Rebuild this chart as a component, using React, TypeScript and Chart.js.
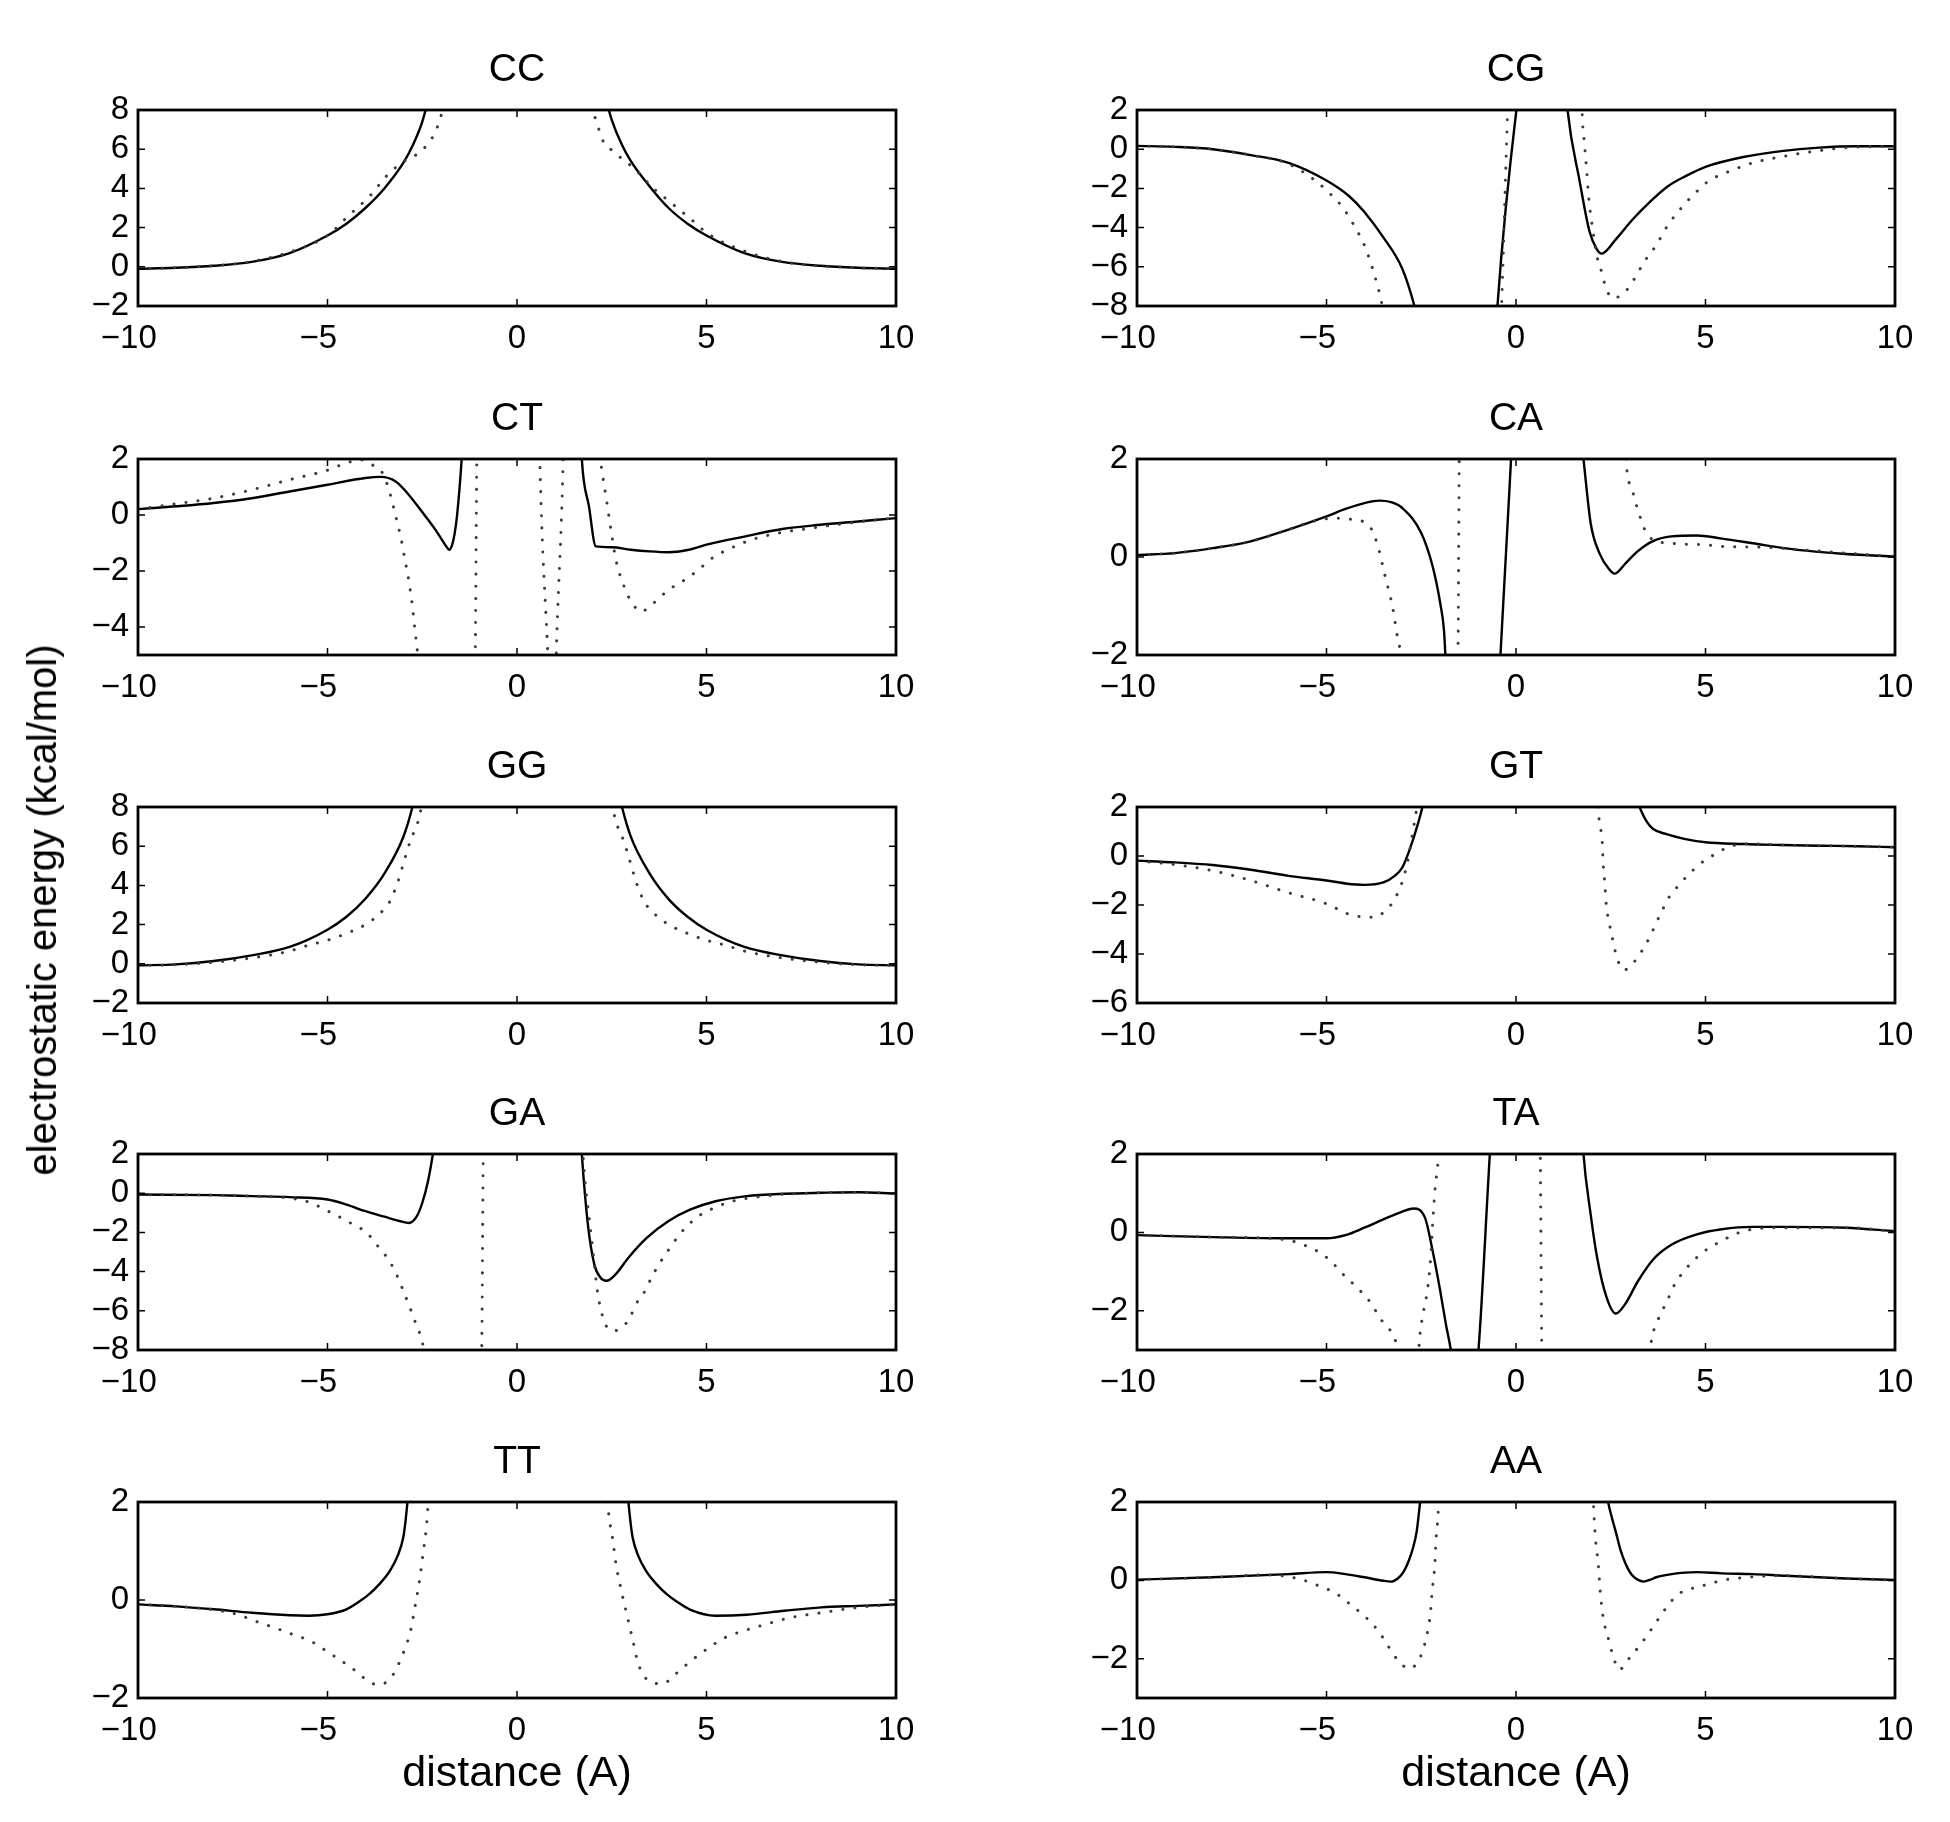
import React, { useEffect, useRef } from 'react';
import { Chart, registerables } from 'chart.js';
Chart.register(...registerables);

type Pt = [number, number] | null;

// ---------- data (x in Å, y in kcal/mol); null = break in the curve ----------
const X_TICKS = [-10, -5, 0, 5, 10];

const CC_SOLID: Pt[] = [[-10,-0.1],[-9,-0.05],[-8,0.05],[-7,0.25],[-6,0.7],[-5,1.6],[-4.5,2.2],[-4,3.0],[-3.5,4.0],[-3,5.3],[-2.75,6.2],[-2.5,7.4],[-2.25,9.2],[-2,11],null,
  [2,11],[2.25,9.2],[2.5,7.5],[2.75,6.3],[3,5.4],[3.5,4.1],[4,3.0],[4.5,2.2],[5,1.6],[6,0.7],[7,0.25],[8,0.05],[9,-0.05],[10,-0.1]];
const CC_DOTTED: Pt[] = [[-10,-0.1],[-9,-0.05],[-8,0.05],[-7,0.27],[-6,0.75],[-5,1.6],[-4.45,2.6],[-3.84,3.7],[-3.46,4.6],[-3.05,5.3],[-2.6,5.8],[-2.34,6.3],[-2.15,6.9],[-2.02,7.6],[-1.9,8.5],[-1.75,10],null,
  [1.75,10],[1.9,8.6],[2.12,7.27],[2.25,6.5],[2.53,5.9],[2.78,5.5],[3.1,5.0],[3.6,4.0],[4,3.37],[4.58,2.44],[5.07,1.65],[6,0.8],[7,0.27],[8,0.05],[9,-0.05],[10,-0.1]];

const CG_SOLID: Pt[] = [[-10,0.17],[-9,0.12],[-8,0.0],[-7,-0.3],[-6,-0.7],[-5,-1.6],[-4.4,-2.4],[-4,-3.2],[-3.5,-4.5],[-3,-6.1],[-2.68,-8],[-2.5,-9.5],null,
  [-0.55,-10],[-0.49,-8],[0.01,2],[0.05,2.5],null,
  [1.32,3],[1.36,2],[1.68,-1.64],[1.94,-4.2],[2.13,-5.1],[2.26,-5.33],[2.65,-4.56],[3.07,-3.6],[3.5,-2.75],[4,-1.9],[4.5,-1.35],[5,-0.9],[6,-0.4],[7,-0.1],[8,0.08],[9,0.15],[10,0.15]];
const CG_DOTTED: Pt[] = [[-10,0.17],[-9,0.12],[-8,0.0],[-7,-0.3],[-6,-0.75],[-5.3,-1.6],[-5,-2.1],[-4.6,-2.9],[-4.3,-3.8],[-4,-4.9],[-3.8,-6.0],[-3.65,-7.0],[-3.55,-7.8],[-3.45,-8.8],null,
  [-0.4,-9],[-0.38,-8],[-0.22,2],[-0.2,3],null,
  [1.72,3],[1.76,1.25],[1.8,0.4],[1.86,-0.97],[1.92,-2.5],[2.02,-4.05],[2.15,-5.6],[2.26,-6.27],[2.36,-7.0],[2.55,-7.6],[2.73,-7.5],[3.0,-7.0],[3.2,-6.35],[3.4,-5.7],[3.7,-4.9],[4.0,-3.9],[4.45,-2.8],[4.8,-2.1],[5.1,-1.6],[5.6,-1.15],[6.25,-0.7],[7.1,-0.35],[7.9,-0.1],[8.7,0.08],[10,0.15]];

const CT_SOLID: Pt[] = [[-10,0.21],[-9,0.31],[-8,0.43],[-7,0.6],[-6,0.84],[-5,1.08],[-4,1.32],[-3.6,1.36],[-3.2,1.2],[-2.97,0.9],[-2.48,0.07],[-2.15,-0.53],[-1.95,-0.95],[-1.85,-1.15],[-1.79,-1.24],[-1.72,-1.1],[-1.65,-0.7],[-1.58,0.0],[-1.46,2.0],[-1.42,3],null,
  [1.68,3],[1.71,2],[1.9,0.3],[2.08,-1.12],[2.5,-1.15],[3,-1.24],[3.5,-1.3],[4,-1.33],[4.5,-1.25],[5,-1.06],[6,-0.77],[7,-0.5],[8,-0.35],[9,-0.23],[10,-0.11]];
const CT_DOTTED: Pt[] = [[-10,0.21],[-9,0.4],[-8,0.6],[-7,0.9],[-6,1.26],[-5,1.6],[-4.5,1.86],[-4.1,1.97],[-3.83,1.8],[-3.55,1.5],[-3.38,0.9],[-3.2,-0.05],[-3.05,-0.9],[-2.97,-1.5],[-2.86,-2.3],[-2.77,-3.15],[-2.7,-4.0],[-2.62,-5],[-2.55,-6],null,
  [-1.12,-6],[-1.1,-5],[-1.06,2],[-1.04,3],null,
  [0.59,3],[0.61,1.56],[0.8,-4.6],[0.85,-6],[0.95,-7],[1.02,-6],[1.05,-4.4],[1.21,1.56],[1.23,3],null,
  [2.15,3],[2.2,2.0],[2.25,1.5],[2.36,0.55],[2.48,-0.53],[2.61,-1.6],[2.86,-2.67],[3.02,-3.1],[3.27,-3.45],[3.6,-3.15],[4.0,-2.67],[4.33,-2.4],[4.75,-2.0],[5.15,-1.54],[5.65,-1.18],[6.2,-0.88],[7.0,-0.62],[7.7,-0.48],[8.5,-0.33],[9.3,-0.2],[10,-0.11]];

const CA_SOLID: Pt[] = [[-10,0.04],[-9,0.08],[-8,0.18],[-7,0.32],[-6,0.56],[-5,0.83],[-4.5,0.98],[-4,1.1],[-3.6,1.15],[-3.3,1.12],[-3,1.0],[-2.5,0.49],[-2.2,-0.19],[-2,-0.94],[-1.9,-1.5],[-1.85,-2.2],null,
  [-0.45,-2.5],[-0.41,-2],[-0.13,2],[-0.1,2.5],null,
  [1.72,2.4],[1.78,2],[1.97,0.69],[2.2,0.08],[2.47,-0.26],[2.6,-0.34],[2.89,-0.13],[3.2,0.11],[3.6,0.32],[4.1,0.42],[4.77,0.44],[5.4,0.38],[6.25,0.28],[7.07,0.18],[7.9,0.11],[8.7,0.06],[10,0.01]];
const CA_DOTTED: Pt[] = [[-10,0.04],[-9,0.08],[-8,0.18],[-7,0.32],[-6,0.56],[-5.35,0.73],[-4.77,0.79],[-4.36,0.77],[-4.03,0.72],[-3.8,0.55],[-3.64,0.21],[-3.45,-0.4],[-3.26,-1.01],[-3.13,-1.62],[-3.05,-1.93],[-3.0,-2.3],null,
  [-1.55,-2.5],[-1.53,-2],[-1.5,1.7],[-1.49,2.5],null,
  [2.88,2.5],[2.93,1.75],[3.04,1.44],[3.16,1.1],[3.3,0.76],[3.42,0.52],[3.62,0.35],[4.1,0.28],[4.93,0.25],[5.6,0.21],[6.5,0.2],[7.5,0.15],[8.7,0.08],[10,0.01]];

const GG_SOLID: Pt[] = [[-10,-0.08],[-9,-0.03],[-8,0.14],[-7,0.43],[-6,0.86],[-5,1.74],[-4.5,2.4],[-4,3.32],[-3.5,4.6],[-3,6.47],[-2.76,8],[-2.6,9.5],null,
  [2.6,9.5],[2.77,8],[3,6.5],[3.5,4.6],[4,3.3],[4.5,2.4],[5,1.74],[6,0.86],[7,0.43],[8,0.14],[9,-0.03],[10,-0.08]];
const GG_DOTTED: Pt[] = [[-10,-0.08],[-9,-0.05],[-8,0.08],[-7,0.3],[-6,0.65],[-5.5,0.95],[-5,1.2],[-4.5,1.55],[-4,2.0],[-3.6,2.6],[-3.35,3.2],[-3.14,4.2],[-2.97,5.3],[-2.81,6.3],[-2.62,7.2],[-2.5,8.2],[-2.35,10],null,
  [2.35,10],[2.5,8.2],[2.62,7.2],[2.81,6.3],[2.97,5.3],[3.14,4.2],[3.35,3.2],[3.6,2.6],[4,2.0],[4.5,1.55],[5,1.2],[5.5,0.95],[6,0.65],[7,0.3],[8,0.08],[9,-0.05],[10,-0.08]];

const GT_SOLID: Pt[] = [[-10,-0.19],[-9,-0.26],[-8,-0.37],[-7,-0.56],[-6,-0.81],[-5,-1.0],[-4.5,-1.12],[-4,-1.18],[-3.5,-1.08],[-3.2,-0.81],[-3,-0.47],[-2.8,0.29],[-2.6,1.25],[-2.47,2],[-2.4,2.6],null,
  [3.12,2.6],[3.26,2],[3.45,1.4],[3.62,1.1],[3.95,0.9],[4.44,0.7],[5,0.56],[6,0.49],[7,0.45],[8,0.42],[9,0.4],[10,0.36]];
const GT_DOTTED: Pt[] = [[-10,-0.2],[-9,-0.35],[-8,-0.6],[-7,-1.0],[-6,-1.5],[-5,-1.95],[-4.4,-2.38],[-3.8,-2.5],[-3.45,-2.25],[-3.2,-1.75],[-3,-1.05],[-2.85,-0.15],[-2.72,1.0],[-2.6,2.2],[-2.55,3],null,
  [2.15,3],[2.19,1.52],[2.27,0.7],[2.3,-0.33],[2.34,-1.08],[2.38,-1.97],[2.47,-2.8],[2.55,-3.4],[2.63,-3.96],[2.75,-4.5],[2.85,-4.65],[3.13,-4.3],[3.37,-3.75],[3.54,-3.27],[3.7,-2.73],[3.87,-2.18],[4.03,-1.7],[4.28,-1.22],[4.52,-0.81],[4.85,-0.33],[5.18,0.01],[5.6,0.36],[6.08,0.5],[7,0.45],[8,0.42],[9,0.4],[10,0.36]];

const GA_SOLID: Pt[] = [[-10,-0.07],[-8,-0.1],[-7,-0.15],[-6,-0.2],[-5,-0.32],[-4.5,-0.58],[-4,-0.92],[-3.5,-1.2],[-3.1,-1.42],[-2.85,-1.52],[-2.65,-1.2],[-2.5,-0.5],[-2.35,0.6],[-2.22,2],[-2.15,3],null,
  [1.68,3],[1.71,2],[1.87,-1.59],[2.04,-3.63],[2.2,-4.3],[2.36,-4.47],[2.6,-4.14],[2.94,-3.29],[3.43,-2.27],[4.0,-1.42],[4.58,-0.83],[5.24,-0.41],[6.06,-0.15],[7.05,-0.03],[8.03,0.02],[9,0.05],[10,-0.02]];
const GA_DOTTED: Pt[] = [[-10,-0.07],[-8,-0.1],[-7,-0.15],[-6,-0.25],[-5.5,-0.45],[-5,-0.9],[-4.6,-1.3],[-4.37,-1.55],[-3.96,-2.02],[-3.71,-2.61],[-3.46,-3.2],[-3.22,-3.97],[-3.0,-4.98],[-2.81,-5.92],[-2.68,-6.6],[-2.56,-7.19],[-2.45,-8],[-2.35,-9],null,
  [-0.95,-9],[-0.93,-8],[-0.89,2],[-0.87,3],null,
  [1.7,3],[1.8,0.5],[1.95,-2.0],[2.05,-3.8],[2.12,-4.98],[2.22,-6.0],[2.38,-6.85],[2.57,-7.02],[2.82,-6.76],[2.98,-6.34],[3.14,-5.66],[3.38,-4.98],[3.55,-4.3],[3.8,-3.46],[4.04,-2.78],[4.29,-2.1],[4.53,-1.59],[4.86,-1.08],[5.2,-0.75],[5.68,-0.41],[6.34,-0.19],[7.05,-0.05],[8,0.02],[9,0.05],[10,-0.02]];

const TA_SOLID: Pt[] = [[-10,-0.07],[-8,-0.12],[-6,-0.15],[-5,-0.15],[-4.5,-0.07],[-4,0.12],[-3.5,0.33],[-3,0.53],[-2.7,0.61],[-2.4,0.37],[-2.2,-0.47],[-2,-1.49],[-1.85,-2.34],[-1.72,-3],[-1.65,-3.5],null,
  [-1.05,-3.5],[-0.99,-3],[-0.69,2],[-0.65,2.6],null,
  [1.75,2.5],[1.78,2],[1.97,0.46],[2.14,-0.64],[2.39,-1.66],[2.63,-2.07],[2.88,-1.83],[3.22,-1.24],[3.62,-0.69],[4.11,-0.31],[4.77,-0.05],[5.43,0.08],[6.25,0.14],[7.07,0.14],[8.7,0.12],[10,0.03]];
const TA_DOTTED: Pt[] = [[-10,-0.07],[-8,-0.12],[-6.5,-0.15],[-6,-0.2],[-5.76,-0.26],[-5.43,-0.39],[-5.1,-0.56],[-4.85,-0.77],[-4.52,-1.11],[-4.19,-1.41],[-3.87,-1.75],[-3.54,-2.25],[-3.26,-2.59],[-3.13,-2.92],[-3.05,-3.3],null,
  [-2.6,-3.5],[-2.54,-2.68],[-2.47,-2.17],[-2.34,-1.49],[-2.25,-0.64],[-2.2,0.2],[-2.14,1.05],[-2.06,1.77],[-2.0,2.5],null,
  [0.62,2.5],[0.64,2],[0.68,-3],[0.7,-3.5],null,
  [3.5,-3.4],[3.58,-2.72],[3.7,-2.34],[3.86,-2.0],[4.03,-1.66],[4.19,-1.32],[4.44,-0.98],[4.77,-0.64],[5.1,-0.39],[5.43,-0.22],[5.76,-0.05],[6.25,0.08],[7,0.12],[8.7,0.12],[10,0.03]];

const TT_SOLID: Pt[] = [[-10,-0.09],[-9,-0.13],[-8,-0.19],[-7,-0.26],[-6,-0.31],[-5.5,-0.32],[-5,-0.29],[-4.5,-0.19],[-4.2,-0.05],[-3.9,0.12],[-3.6,0.35],[-3.35,0.6],[-3.15,0.9],[-3.0,1.28],[-2.94,1.62],[-2.89,2.0],[-2.82,2.6],null,
  [2.87,2.6],[2.94,2.0],[2.99,1.62],[3.05,1.28],[3.2,0.9],[3.4,0.6],[3.65,0.35],[3.95,0.12],[4.25,-0.05],[4.58,-0.2],[5.24,-0.32],[6.06,-0.3],[7.05,-0.22],[8.03,-0.15],[9,-0.12],[10,-0.09]];
const TT_DOTTED: Pt[] = [[-10,-0.09],[-9,-0.13],[-8,-0.2],[-7.4,-0.29],[-6.91,-0.43],[-6.42,-0.56],[-5.93,-0.7],[-5.44,-0.84],[-5.11,-1.0],[-4.7,-1.21],[-4.37,-1.38],[-4.04,-1.59],[-3.68,-1.73],[-3.33,-1.59],[-3.0,-1.08],[-2.81,-0.63],[-2.68,-0.09],[-2.56,0.46],[-2.48,0.94],[-2.4,1.42],[-2.35,1.9],[-2.3,2.5],null,
  [2.35,2.5],[2.41,1.83],[2.53,1.21],[2.61,0.74],[2.75,0.2],[2.9,-0.3],[3.05,-0.8],[3.2,-1.3],[3.43,-1.62],[3.84,-1.71],[4.17,-1.52],[4.58,-1.25],[5.07,-0.97],[5.48,-0.77],[5.98,-0.63],[6.55,-0.5],[7.21,-0.36],[8.03,-0.26],[9,-0.15],[10,-0.09]];

const AA_SOLID: Pt[] = [[-10,0.02],[-8,0.08],[-6,0.16],[-5,0.21],[-4.5,0.16],[-4,0.08],[-3.5,-0.01],[-3.3,-0.03],[-3.12,0.05],[-2.98,0.2],[-2.85,0.45],[-2.72,0.82],[-2.62,1.25],[-2.53,2],[-2.46,2.6],null,
  [2.33,2.6],[2.43,2.0],[2.53,1.6],[2.63,1.25],[2.75,0.8],[2.88,0.45],[3.0,0.22],[3.13,0.07],[3.25,0.0],[3.37,-0.03],[3.55,0.02],[3.7,0.08],[4.11,0.16],[4.77,0.21],[5.43,0.18],[6.25,0.16],[7.07,0.12],[8.7,0.05],[10,0.01]];
const AA_DOTTED: Pt[] = [[-10,0.02],[-8,0.08],[-6.5,0.14],[-5.92,0.08],[-5.43,-0.05],[-5.1,-0.18],[-4.8,-0.3],[-4.44,-0.56],[-4.11,-0.82],[-3.78,-1.12],[-3.54,-1.42],[-3.37,-1.68],[-3.13,-2.02],[-2.82,-2.25],[-2.5,-1.9],[-2.35,-1.38],[-2.26,-0.86],[-2.21,-0.26],[-2.14,0.42],[-2.11,1.02],[-2.06,1.62],[-2.02,2.5],null,
  [2.02,2.5],[2.06,1.62],[2.1,1.02],[2.17,0.42],[2.22,-0.26],[2.3,-0.95],[2.43,-1.46],[2.55,-1.89],[2.72,-2.28],[3.0,-1.97],[3.29,-1.63],[3.54,-1.29],[3.78,-0.95],[4.03,-0.61],[4.28,-0.35],[4.6,-0.22],[5.1,-0.09],[5.43,0.0],[6.09,0.08],[7,0.12],[8.7,0.05],[10,0.01]];

const TITLES = ['CC', 'CG', 'CT', 'CA', 'GG', 'GT', 'GA', 'TA', 'TT', 'AA'];
const Y_RANGES: [number, number][] = [[-2, 8], [-8, 2], [-5, 2], [-2, 2], [-2, 8], [-6, 2], [-8, 2], [-3, 2], [-2, 2], [-3, 2]];
const Y_TICKS: number[][] = [
  [-2, 0, 2, 4, 6, 8], [-8, -6, -4, -2, 0, 2], [-4, -2, 0, 2], [-2, 0, 2], [-2, 0, 2, 4, 6, 8],
  [-6, -4, -2, 0, 2], [-8, -6, -4, -2, 0, 2], [-2, 0, 2], [-2, 0, 2], [-2, 0, 2],
];
const SOLIDS = [CC_SOLID, CG_SOLID, CT_SOLID, CA_SOLID, GG_SOLID, GT_SOLID, GA_SOLID, TA_SOLID, TT_SOLID, AA_SOLID];
const DOTTEDS = [CC_DOTTED, CG_DOTTED, CT_DOTTED, CA_DOTTED, GG_DOTTED, GT_DOTTED, GA_DOTTED, TA_DOTTED, TT_DOTTED, AA_DOTTED];

const Y_LABEL = 'electrostatic energy (kcal/mol)';
const X_LABEL = 'distance (A)';

// ---------- layout ----------
const FONT = '"Liberation Sans", Arial, Helvetica, sans-serif';
const COL_LEFT = [138, 1137];
const ROW_TOP = [110, 459, 807, 1154, 1502];
const PW = 758;
const PH = 196;
const YW = 90;
const PAD_R = 40;
const TITLE_H = 62;
const XH = 52;
const CW = YW + PW + PAD_R;
const CH = TITLE_H + PH + XH;

Chart.defaults.font.family = FONT;
Chart.defaults.color = '#000';

const fmtY = (v: number | string) => {
  const n = Number(v);
  return n < 0 ? '\u2212' + Math.abs(n) : String(n);
};
// negative x labels: digits centred on the tick, minus sign hanging to the left
const fmtX = (v: number | string) => {
  const n = Number(v);
  return n < 0 ? '\u2212' + Math.abs(n) + '\u2007' : String(n);
};

const toXY = (arr: Pt[]) => {
  const out: { x: number; y: number | null }[] = [];
  let lastX = -10;
  for (const p of arr) {
    if (p === null) out.push({ x: lastX, y: null });
    else { out.push({ x: p[0], y: p[1] }); lastX = p[0]; }
  }
  return out;
};

const framePlugin = {
  id: 'frame',
  afterDatasetsDraw(chart: any) {
    const { ctx, chartArea: a, scales } = chart;
    const TICK = 7;
    ctx.save();
    ctx.strokeStyle = '#000';
    ctx.lineWidth = 1.5;
    ctx.beginPath();
    for (const t of scales.x.ticks) {
      const px = scales.x.getPixelForValue(t.value);
      ctx.moveTo(px, a.bottom); ctx.lineTo(px, a.bottom - TICK);
      ctx.moveTo(px, a.top); ctx.lineTo(px, a.top + TICK);
    }
    for (const t of scales.y.ticks) {
      const py = scales.y.getPixelForValue(t.value);
      ctx.moveTo(a.left, py); ctx.lineTo(a.left + TICK, py);
      ctx.moveTo(a.right, py); ctx.lineTo(a.right - TICK, py);
    }
    ctx.stroke();
    ctx.lineWidth = 2.8;
    ctx.strokeRect(a.left, a.top, a.right - a.left, a.bottom - a.top);
    ctx.restore();
  },
};

function Panel({ idx }: { idx: number }) {
  const ref = useRef<HTMLCanvasElement>(null);
  const col = idx % 2;
  const row = Math.floor(idx / 2);
  const left = COL_LEFT[col] - YW;
  const top = ROW_TOP[row] - TITLE_H;
  useEffect(() => {
    const [yMin, yMax] = Y_RANGES[idx];
    const yTicks = Y_TICKS[idx];
    const chart = new Chart(ref.current as HTMLCanvasElement, {
      type: 'line',
      data: {
        datasets: [
          {
            data: toXY(DOTTEDS[idx]) as any,
            borderColor: '#3a3a3a',
            borderWidth: 3,
            borderDash: [0.1, 12],
            borderCapStyle: 'round',
            pointRadius: 0,
            spanGaps: false,
            cubicInterpolationMode: 'monotone',
            clip: 0,
          } as any,
          {
            data: toXY(SOLIDS[idx]) as any,
            borderColor: '#000',
            borderWidth: 2.4,
            pointRadius: 0,
            spanGaps: false,
            cubicInterpolationMode: 'monotone',
            clip: 0,
          } as any,
        ],
      },
      options: {
        responsive: false,
        animation: false,
        events: [],
        layout: { padding: { left: 0, right: PAD_R, top: 0, bottom: 0 } },
        plugins: {
          legend: { display: false },
          tooltip: { enabled: false },
          title: {
            display: true,
            text: TITLES[idx],
            fullSize: false,
            color: '#000',
            font: { size: 39, weight: 'normal', lineHeight: '44px' as any, family: FONT },
            padding: { top: 0, bottom: 18 },
          },
        },
        scales: {
          x: {
            type: 'linear',
            min: -10,
            max: 10,
            grid: { display: false, drawTicks: false },
            border: { display: false },
            ticks: { font: { size: 33, family: FONT }, color: '#000', padding: 13, autoSkip: false, maxRotation: 0, callback: fmtX },
            afterBuildTicks: (s: any) => { s.ticks = X_TICKS.map((v) => ({ value: v })); },
            afterFit: (s: any) => { s.height = XH; },
          },
          y: {
            type: 'linear',
            min: yMin,
            max: yMax,
            grid: { display: false, drawTicks: false },
            border: { display: false },
            ticks: { font: { size: 33, family: FONT }, color: '#000', padding: 9, autoSkip: false, callback: fmtY },
            afterBuildTicks: (s: any) => { s.ticks = yTicks.map((v) => ({ value: v })); },
            afterFit: (s: any) => { s.width = YW; },
          },
        },
      } as any,
      plugins: [framePlugin],
    });
    return () => chart.destroy();
  }, [idx]);
  return (
    <canvas
      ref={ref}
      width={CW}
      height={CH}
      style={{ position: 'absolute', left, top, width: CW, height: CH }}
    />
  );
}

export default function App() {
  return (
    <div style={{ position: 'absolute', left: 0, top: 0, width: 1950, height: 1822, background: '#fff', overflow: 'hidden', fontFamily: FONT }}>
      {TITLES.map((_, i) => (
        <Panel key={i} idx={i} />
      ))}
      <div
        style={{
          position: 'absolute', left: 42, top: 910, transform: 'translate(-50%, -50%) rotate(-90deg)',
          whiteSpace: 'nowrap', fontSize: 40, lineHeight: '46px', color: '#000',
        }}
      >
        {Y_LABEL}
      </div>
      {COL_LEFT.map((l, i) => (
        <div
          key={i}
          style={{
            position: 'absolute', left: l + PW / 2, top: 1771, transform: 'translate(-50%, -50%)',
            whiteSpace: 'nowrap', fontSize: 43, lineHeight: '50px', color: '#000',
          }}
        >
          {X_LABEL}
        </div>
      ))}
    </div>
  );
}
